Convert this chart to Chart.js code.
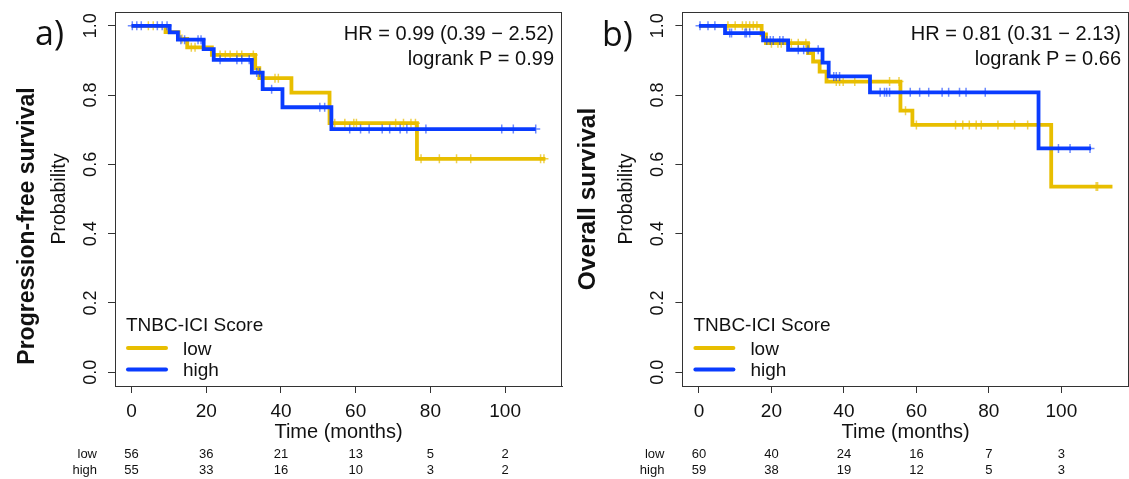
<!DOCTYPE html>
<html><head><meta charset="utf-8">
<script src="https://cdn.jsdelivr.net/npm/chart.js@4/dist/chart.umd.min.js"></script>
<style>
html,body{margin:0;padding:0;background:#fff;width:1129px;height:479px;overflow:hidden}
.p{position:absolute;top:0;height:479px}
#wa{left:0;width:565px}
#wb{left:565px;width:564px}
canvas{display:block}
</style></head><body>
<div class="p" id="wa"><canvas id="ca"></canvas></div>
<div class="p" id="wb"><canvas id="cb"></canvas></div>
<script>
// ---------- data ----------
const groupNames = ['low', 'high'];
const legendTitle = 'TNBC-ICI Score';
const timeTicks = [0, 20, 40, 60, 80, 100];
const probTicks = [0, 0.2, 0.4, 0.6, 0.8, 1.0];
const riskTimes = [0, 20, 40, 60, 80, 100];

// a) Progression-free survival
const pfsLowTime  = [0, 9.1, 12.6, 14.9, 21.5, 33.1, 34.2, 42.8, 53.0, 76.4, 110.8];
const pfsLowSurv  = [1.0, 0.982, 0.962, 0.938, 0.916, 0.878, 0.849, 0.807, 0.719, 0.616, 0.616];
const pfsLowCens  = [4.5, 5.8, 13.5, 16.0, 17.0, 23.7, 25.1, 26.4, 28.2, 29.5, 32.6, 38.4, 39.3, 54.4, 57.1, 59.5, 60.2, 70.7, 72.8, 74.8, 76.0, 77.5, 82.4, 87.0, 90.8, 109.5, 110.4];
const pfsHighTime = [0, 10.2, 12.4, 19.3, 22.0, 32.2, 35.1, 40.4, 53.5, 108.2];
const pfsHighSurv = [1.0, 0.981, 0.960, 0.933, 0.902, 0.865, 0.817, 0.765, 0.702, 0.702];
const pfsHighCens = [0.2, 1.4, 2.6, 6.9, 8.2, 9.5, 13.2, 14.2, 17.8, 18.6, 23.7, 28.2, 29.5, 31.5, 33.5, 34.3, 37.5, 50.4, 51.7, 58.4, 61.3, 63.6, 67.1, 69.1, 71.9, 73.7, 78.8, 99.1, 102.2, 108.2];
const pfsRiskLow  = [56, 36, 21, 13, 5, 2];
const pfsRiskHigh = [55, 33, 16, 10, 3, 2];

// b) Overall survival
const osLowTime  = [0, 17.3, 18.5, 30.1, 31.5, 33.3, 35.2, 55.6, 58.9, 97.2, 114.1];
const osLowSurv  = [1.0, 0.975, 0.950, 0.921, 0.897, 0.868, 0.839, 0.755, 0.714, 0.536, 0.536];
const osLowCens  = [8.0, 10.0, 12.0, 13.0, 14.0, 15.0, 16.0, 20.0, 21.8, 22.7, 25.5, 27.4, 29.5, 37.9, 38.8, 39.8, 43.0, 52.6, 55.2, 57.0, 60.0, 70.8, 72.8, 74.6, 76.5, 77.9, 82.5, 87.1, 90.7, 109.6, 110.0];
const osHighTime = [0, 7.2, 17.7, 24.6, 34.1, 35.8, 47.2, 93.7, 108.2];
const osHighSurv = [1.0, 0.979, 0.958, 0.931, 0.894, 0.854, 0.808, 0.646, 0.646];
const osHighCens = [0.3, 2.5, 4.4, 8.5, 9.0, 12.7, 13.1, 14.0, 18.7, 19.7, 20.5, 22.3, 23.2, 27.4, 28.9, 30.1, 32.9, 37.2, 37.9, 38.8, 50.0, 51.2, 51.8, 52.6, 58.3, 60.9, 63.4, 67.1, 68.9, 71.9, 73.7, 79.0, 99.2, 102.4, 107.9];
const osRiskLow  = [60, 40, 24, 16, 7, 3];
const osRiskHigh = [59, 38, 19, 12, 5, 3];

// ---------- styles ----------
const FONT = "'Liberation Sans', Arial, Helvetica, sans-serif";
const COL = { low: '#E8BE00', high: '#0A3CFF' };
const CENS = { low: 'rgba(232,190,0,0.7)', high: 'rgba(10,60,255,0.6)' };
const TXT = '#111';

function stepValue(times, surv, t) {
  let v = surv[0];
  for (let i = 0; i < times.length; i++) if (times[i] <= t) v = surv[i];
  return v;
}

function noPad(s) { s.paddingLeft = 0; s.paddingRight = 0; s.paddingTop = 0; s.paddingBottom = 0; }

function buildPanel(P) {
  const cv = document.getElementById(P.canvas);
  cv.width = P.width; cv.height = 479;
  const maxT = Math.max(...P.lowT, ...P.highT);
  const xmin = -0.04 * maxT, xmax = 1.04 * maxT;
  const line = (key, T, S, order) => ({
    type: 'line', order,
    data: T.map((t, i) => ({ x: t, y: S[i] })),
    stepped: true, borderColor: COL[key], borderWidth: 3.8,
    borderJoinStyle: 'miter', borderCapStyle: 'butt',
    pointRadius: 0, fill: false
  });
  const cens = (key, C, T, S, order) => ({
    type: 'line', order, showLine: false,
    data: C.map(t => ({ x: t, y: stepValue(T, S, t) })),
    pointStyle: 'cross', pointRadius: 4.5, pointBorderWidth: 1.5,
    pointBorderColor: CENS[key], pointBackgroundColor: CENS[key]
  });

  const decor = {
    id: 'decor',
    afterDraw(chart) {
      const { ctx, chartArea: ca, scales } = chart;
      const xs = scales.x, ys = scales.y;
      ctx.save();
      // box
      ctx.strokeStyle = '#333'; ctx.lineWidth = 1;
      ctx.strokeRect(Math.round(ca.left) + 0.5, Math.round(ca.top) + 0.5,
        Math.round(ca.right) - Math.round(ca.left) - 1, Math.round(ca.bottom) - Math.round(ca.top));
      ctx.fillStyle = TXT;
      // rotated y tick labels
      ctx.font = '18px ' + FONT; ctx.textAlign = 'center'; ctx.textBaseline = 'alphabetic';
      probTicks.forEach(v => {
        ctx.save(); ctx.translate(ca.left - 19, ys.getPixelForValue(v)); ctx.rotate(-Math.PI / 2);
        ctx.fillText(v.toFixed(1), 0, 0); ctx.restore();
      });
      // y label
      const yc = (ys.getPixelForValue(0) + ys.getPixelForValue(1)) / 2;
      ctx.font = '19.5px ' + FONT;
      ctx.save(); ctx.translate(ca.left - 50, yc); ctx.rotate(-Math.PI / 2);
      ctx.fillText('Probability', 0, 0); ctx.restore();
      // big side title
      ctx.font = 'bold ' + P.sideSize + 'px ' + FONT;
      ctx.save(); ctx.translate(P.sideX, P.sideY); ctx.rotate(-Math.PI / 2);
      ctx.fillText(P.side, 0, 0); ctx.restore();
      // panel letter
      ctx.font = '34px "Open Sans", Lato, sans-serif'; ctx.textAlign = 'left';
      ctx.fillText(P.letter, P.letterX, P.letterY);
      // HR text
      ctx.font = '20px ' + FONT; ctx.textAlign = 'right';
      ctx.fillText(P.hr, ca.right - 8, ca.top + 28);
      ctx.fillText(P.pval, ca.right - 8, ca.top + 53);
      // legend
      ctx.textAlign = 'left'; ctx.font = '19px ' + FONT;
      ctx.fillText(legendTitle, ca.left + 11, ca.bottom - 55);
      groupNames.forEach((g, i) => {
        const ly = ca.bottom - 38 + i * 21.5;
        ctx.strokeStyle = COL[g]; ctx.lineWidth = 4; ctx.lineCap = 'round';
        ctx.beginPath(); ctx.moveTo(ca.left + 13, ly); ctx.lineTo(ca.left + 51, ly); ctx.stroke();
        ctx.fillText(g, ca.left + 68, ly + 6.5);
      });
      // number at risk
      ctx.font = '13px ' + FONT; ctx.textBaseline = 'middle';
      const rows = [P.riskLow, P.riskHigh];
      groupNames.forEach((g, i) => {
        const ry = ca.bottom + 68 + i * 16;
        ctx.textAlign = 'right'; ctx.fillText(g, ca.left - 18, ry);
        ctx.textAlign = 'center';
        riskTimes.forEach((t, j) => ctx.fillText(String(rows[i][j]), xs.getPixelForValue(t), ry));
      });
      ctx.restore();
    }
  };

  return new Chart(cv, {
    data: {
      datasets: [
        line('low', P.lowT, P.lowS, 4),
        cens('low', P.lowC, P.lowT, P.lowS, 3),
        line('high', P.highT, P.highS, 2),
        cens('high', P.highC, P.highT, P.highS, 1)
      ]
    },
    options: {
      responsive: false, animation: false, devicePixelRatio: 1,
      layout: { autoPadding: false, padding: { left: 0, right: P.width - P.chartRight, top: 12, bottom: 0 } },
      plugins: { legend: { display: false }, tooltip: { enabled: false } },
      scales: {
        x: {
          type: 'linear', position: 'bottom', min: xmin, max: xmax,
          afterBuildTicks: s => { s.ticks = timeTicks.map(v => ({ value: v })); },
          afterFit: s => { s.height = 93; noPad(s); },
          grid: { drawOnChartArea: false, drawTicks: true, tickLength: 7, tickColor: '#333', tickWidth: 1 },
          border: { display: true, color: '#333', width: 1 },
          ticks: { font: { family: FONT, size: 19 }, color: TXT, padding: 7, maxRotation: 0, minRotation: 0, autoSkip: false, callback: v => String(v) },
          title: { display: true, text: 'Time (months)', font: { family: FONT, size: 20 }, color: TXT, padding: { top: 0, bottom: 35 } }
        },
        y: {
          type: 'linear', position: 'left', min: -0.04, max: 1.04,
          afterBuildTicks: s => { s.ticks = probTicks.map(v => ({ value: v })); },
          afterFit: s => { s.width = P.chartLeft; noPad(s); },
          grid: { drawOnChartArea: false, drawTicks: true, tickLength: 7, tickColor: '#333', tickWidth: 1 },
          border: { display: true, color: '#333', width: 1 },
          ticks: { display: false }
        }
      }
    },
    plugins: [decor]
  });
}

buildPanel({
  canvas: 'ca', width: 565, chartLeft: 115, chartRight: 562,
  letter: 'a)', letterX: 35, letterY: 45,
  side: 'Progression-free survival', sideSize: 23, sideX: 34, sideY: 226,
  hr: 'HR = 0.99 (0.39 \u2212 2.52)', pval: 'logrank P = 0.99',
  lowT: pfsLowTime, lowS: pfsLowSurv, lowC: pfsLowCens,
  highT: pfsHighTime, highS: pfsHighSurv, highC: pfsHighCens,
  riskLow: pfsRiskLow, riskHigh: pfsRiskHigh
});
buildPanel({
  canvas: 'cb', width: 564, chartLeft: 117.4, chartRight: 564,
  letter: 'b)', letterX: 37, letterY: 46,
  side: 'Overall survival', sideSize: 24.5, sideX: 30, sideY: 199,
  hr: 'HR = 0.81 (0.31 \u2212 2.13)', pval: 'logrank P = 0.66',
  lowT: osLowTime, lowS: osLowSurv, lowC: osLowCens,
  highT: osHighTime, highS: osHighSurv, highC: osHighCens,
  riskLow: osRiskLow, riskHigh: osRiskHigh
});
</script>
</body></html>
